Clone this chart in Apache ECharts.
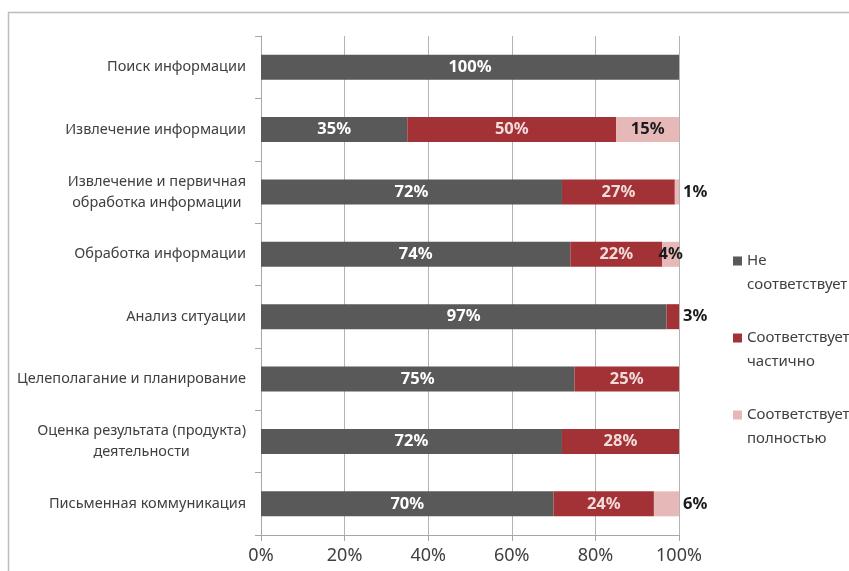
<!DOCTYPE html>
<html>
<head>
<meta charset="utf-8">
<script src="https://cdn.jsdelivr.net/npm/echarts@6/dist/echarts.min.js"></script>
<style>
    html, body { margin: 0; padding: 0; background: #fff; }
    #chart { width: 849px; height: 571px; }
</style>
</head>
<body>
<div id="chart"></div>
<script>
// категории сверху вниз
var categories = [
    'Поиск информации',
    'Извлечение информации',
    'Извлечение и первичная\nобработка информации',
    'Обработка информации',
    'Анализ ситуации',
    'Целеполагание и планирование',
    'Оценка результата (продукта)\nдеятельности',
    'Письменная коммуникация'
];
var seriesNames = ['Не соответствует', 'Соответствует частично', 'Соответствует полностью'];
var notMatch = [100, 35, 72, 74, 97, 75, 72, 70];
var partly = [0, 50, 27, 22, 3, 25, 28, 24];
var fully = [0, 15, 1, 4, 0, 0, 0, 6];
// подписи, вынесенные справа от столбца: [серия, категория]
var outsideLabels = [[1, 4], [2, 2], [2, 7]];

var colors = ['#595959', '#a33236', '#e6b9b8'];
var labelColors = ['#ffffff', '#f2dcdb', '#1a1a1a'];
var fontFamily = '"Noto Sans", "DejaVu Sans", sans-serif';

function isOutside(s, c) {
    for (var i = 0; i < outsideLabels.length; i++) {
        if (outsideLabels[i][0] === s && outsideLabels[i][1] === c) return true;
    }
    return false;
}

function buildSeries(values, s) {
    var data = values.map(function (v, c) {
        if (isOutside(s, c)) {
            return {
                value: v,
                label: {position: 'right', distance: 4, color: '#1a1a1a'}
            };
        }
        return v;
    });
    return {
        name: seriesNames[s],
        type: 'bar',
        stack: 'total',
        barWidth: 25,
        itemStyle: {color: colors[s]},
        label: {
            show: true,
            position: 'inside',
            color: labelColors[s],
            fontFamily: fontFamily,
            fontWeight: 'bold',
            fontSize: 16.5,
            formatter: function (p) {
                return p.value ? p.value + '%' : '';
            }
        },
        data: data
    };
}

// иконка легенды: квадрат вверху высокого прямоугольника, чтобы стоял у первой строки
var legendIcon = 'path://M0,0L10,0L10,10L0,10Z M0,36.3L0.01,36.3L0,36.7Z';

var chart = echarts.init(document.getElementById('chart'));
var option = {
    animation: false,
    color: colors,
    graphic: [{
        type: 'rect',
        shape: {x: 8.5, y: 12.5, width: 1000, height: 1000},
        style: {fill: 'none', stroke: '#bcbcbc', lineWidth: 1.5},
        silent: true
    }],
    legend: {
        orient: 'vertical',
        left: 733,
        top: 249,
        padding: 0,
        itemWidth: 9,
        itemHeight: 33,
        itemGap: 29,
        icon: legendIcon,
        data: seriesNames,
        formatter: function (name) {
            return name.replace(' ', '\n');
        },
        textStyle: {
            color: '#404040',
            fontFamily: fontFamily,
            fontSize: 15,
            lineHeight: 24
        }
    },
    grid: {
        left: 261,
        right: 170,
        top: 36,
        bottom: 36,
        outerBoundsMode: 'none'
    },
    xAxis: {
        type: 'value',
        min: 0,
        max: 100,
        interval: 20,
        axisLine: {show: true, lineStyle: {color: '#a6a6a6'}},
        axisTick: {show: true, length: 6, lineStyle: {color: '#a6a6a6'}},
        splitLine: {show: true, lineStyle: {color: '#b3b3b3'}},
        axisLabel: {
            margin: 12,
            color: '#404040',
            fontFamily: fontFamily,
            fontSize: 18,
            formatter: '{value}%'
        }
    },
    yAxis: {
        type: 'category',
        inverse: true,
        data: categories,
        axisLine: {show: true, lineStyle: {color: '#a6a6a6'}},
        axisTick: {show: true, length: 6, lineStyle: {color: '#a6a6a6'}},
        axisLabel: {
            margin: 15,
            align: 'right',
            formatter: function (value) {
                return value.split('\n').map(function (l) {
                    return '{c|' + l + '}';
                }).join('\n');
            },
            rich: {
                c: {
                    align: 'center',
                    color: '#404040',
                    fontFamily: fontFamily,
                    fontSize: 14.5,
                    lineHeight: 21
                }
            }
        }
    },
    series: [
        buildSeries(notMatch, 0),
        buildSeries(partly, 1),
        buildSeries(fully, 2)
    ]
};
chart.setOption(option);
</script>
</body>
</html>
